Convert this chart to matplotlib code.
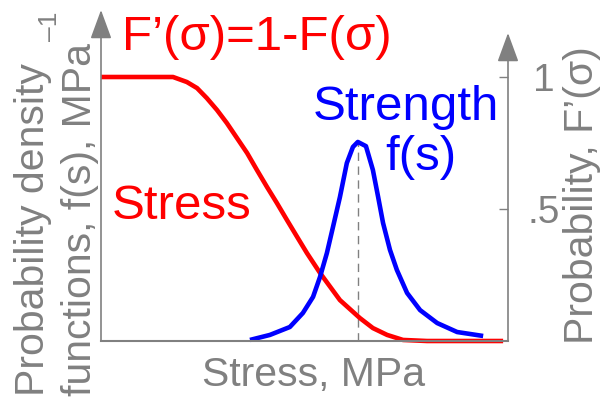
import matplotlib.pyplot as plt

plt.rcParams['font.family'] = ['Liberation Sans', 'DejaVu Sans']

gray = '#808080'
red = '#ff0000'
blue = '#0000ff'

# F'(sigma) = 1 - F(sigma), the stress curve
stress_x = [0, 14.5, 17.7, 21.1, 23.6, 26.0, 28.5, 30.9, 33.4, 35.9, 38.3,
            40.8, 43.2, 45.7, 48.2, 50.6, 53.8, 58.7, 63.6, 66.8, 70.3, 74.2,
            80.1, 98.8]
stress_y = [1.0, 1.0, 1.0, 0.981, 0.958, 0.920, 0.875, 0.826, 0.769, 0.712,
            0.648, 0.583, 0.523, 0.458, 0.394, 0.333, 0.258, 0.155, 0.087,
            0.049, 0.023, 0.004, 0.0, 0.0]

# f(s), the strength density
strength_x = [36.6, 41.5, 46.4, 49.6, 52.1, 53.8, 55.5, 57.0, 58.7, 60.4,
              61.9, 63.1, 65.1, 66.8, 68.1, 69.3, 71.0, 72.7, 75.2, 78.4,
              82.6, 87.5, 93.9]
strength_y = [0.004, 0.023, 0.053, 0.106, 0.167, 0.242, 0.333, 0.432, 0.545,
              0.674, 0.735, 0.754, 0.738, 0.648, 0.545, 0.447, 0.345, 0.269,
              0.182, 0.117, 0.068, 0.034, 0.019]

peak_x = 63.1
peak_y = 0.754

right_ticks = [0.5, 1.0]
right_labels = ['.5', '1']

W, H = 601, 405
fig = plt.figure(figsize=(W / 100, H / 100), dpi=100)
ax = fig.add_axes([101 / W, 64 / H, 407 / W, 331 / H])
ax.set_xlim(0, 100)
ax.set_ylim(0, 331 / 264)


def px(x, y):
    return x / W, 1 - y / H


for side in ['top', 'right', 'left']:
    ax.spines[side].set_visible(False)
ax.spines['bottom'].set_color(gray)
ax.spines['bottom'].set_linewidth(1.5)
ax.set_xticks([])

# axis arrows
arrow = dict(arrowstyle='-|>,head_length=0.9,head_width=0.33',
             mutation_scale=20, color=gray, lw=1.2, shrinkA=0, shrinkB=0)
ax.annotate('', xy=(0, 1), xycoords='axes fraction', xytext=(0, 0),
            arrowprops=arrow)
ax.annotate('', xy=(1, (341 - 33) / 331), xycoords='axes fraction',
            xytext=(1, 0), arrowprops=arrow)

ax.yaxis.tick_right()
ax.set_yticks(right_ticks, right_labels)
ax.tick_params(axis='y', direction='in', length=6.5, width=1, color=gray,
               labelcolor=gray, labelsize=28, pad=26)
for lab in ax.get_yticklabels():
    lab.set_horizontalalignment('center')

ax.vlines(peak_x, 0, peak_y, colors=gray, linestyles=(0, (6, 4)), lw=1)
ax.plot(stress_x, stress_y, color=red, lw=3.3, clip_on=False,
        solid_capstyle='butt', solid_joinstyle='round')
ax.plot(strength_x, strength_y, color=blue, lw=3.3, clip_on=False,
        solid_capstyle='butt', solid_joinstyle='round')

# labels
fig.text(*px(122, 38), 'F’(σ)=1-F(σ)', color=red, fontsize=35.5,
         ha='left', va='center')
fig.text(*px(112, 207), 'Stress', color=red, fontsize=35.5,
         ha='left', va='center')
fig.text(*px(313, 107), 'Strength', color=blue, fontsize=35.5,
         ha='left', va='center')
fig.text(*px(385, 157), 'f(s)', color=blue, fontsize=35.5,
         ha='left', va='center')
fig.text(*px(314, 375), 'Stress, MPa', color=gray, fontsize=29.5,
         ha='center', va='center')
fig.text(*px(33, 396), 'Probability density', color=gray, fontsize=29.5,
         rotation=90, ha='center', va='bottom')
fig.text(*px(80, 396), 'functions, f(s), MPa', color=gray, fontsize=29.5,
         rotation=90, ha='center', va='bottom')
fig.text(*px(50, 26), '–1', color=gray, fontsize=19,
         rotation=90, ha='center', va='center')
fig.text(*px(582, 195), 'Probability, F’(σ)', color=gray, fontsize=29.5,
         rotation=90, ha='center', va='center')

fig.savefig('out.png', dpi=100)
